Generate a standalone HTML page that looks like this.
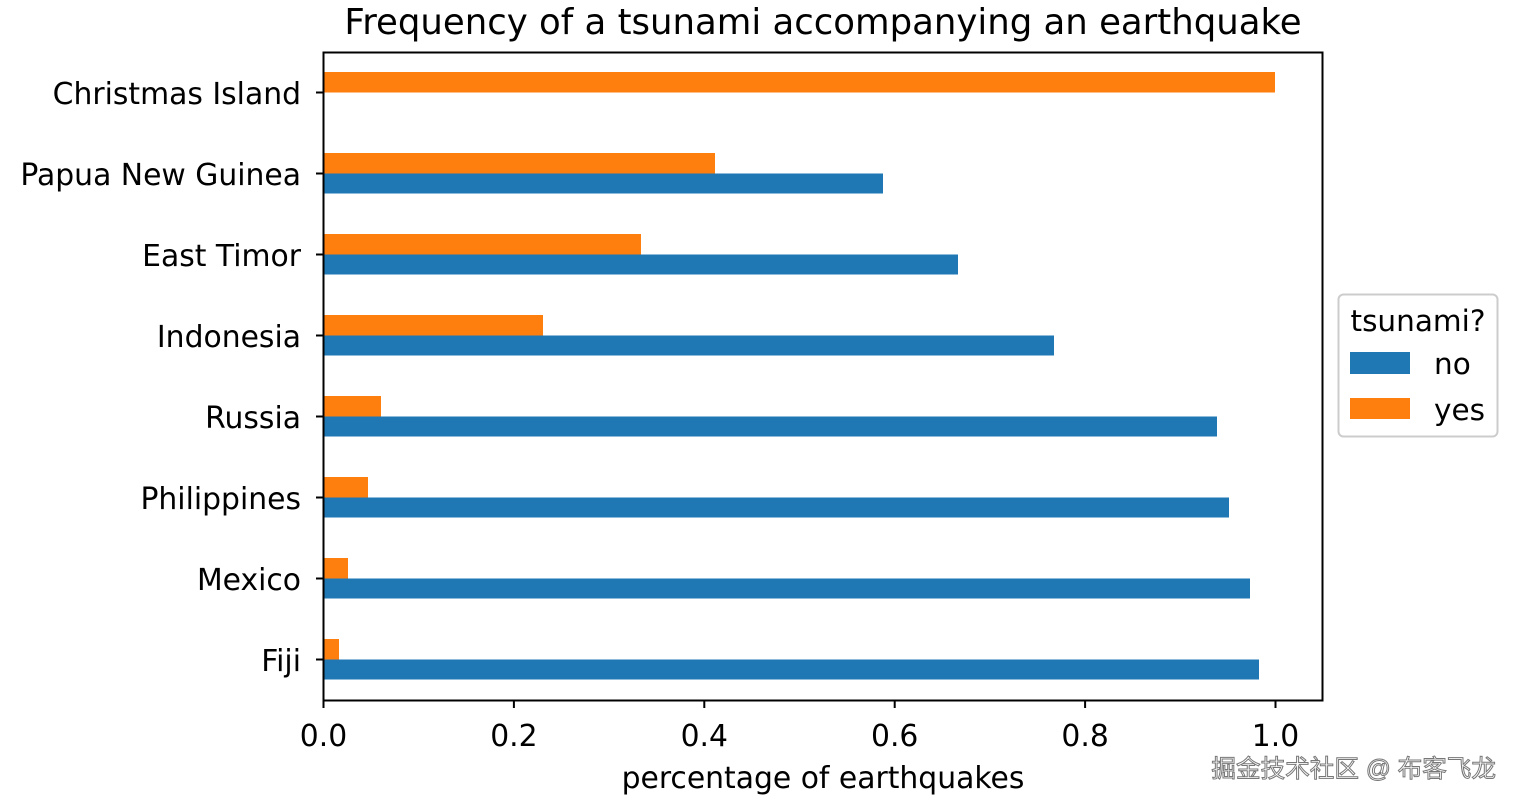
<!DOCTYPE html>
<html><head><meta charset="utf-8"><style>
html,body{margin:0;padding:0;background:#fff;}
svg{display:block;font-family:"DejaVu Sans","Liberation Sans",sans-serif;}
</style></head><body>
<svg width="1519" height="803" viewBox="0 0 1519 803" xmlns="http://www.w3.org/2000/svg">
<rect width="1519" height="803" fill="#fff"/>
<text x="823" y="34" font-size="35.5" text-anchor="middle" fill="#000">Frequency of a tsunami accompanying an earthquake</text>
<g fill="#ff7f0e">
<rect x="324" y="72" width="951" height="20.5"/>
<rect x="324" y="153" width="391" height="20.5"/>
<rect x="324" y="234" width="317" height="20.5"/>
<rect x="324" y="315" width="219" height="20.5"/>
<rect x="324" y="396" width="57" height="20.5"/>
<rect x="324" y="477" width="44" height="20.5"/>
<rect x="324" y="558" width="24" height="20.5"/>
<rect x="324" y="639" width="15" height="20.5"/>
</g>
<g fill="#1f77b4">
<rect x="324" y="173.5" width="559" height="20"/>
<rect x="324" y="254.5" width="634" height="20"/>
<rect x="324" y="335.5" width="730" height="20"/>
<rect x="324" y="416.5" width="893" height="20"/>
<rect x="324" y="497.5" width="905" height="20"/>
<rect x="324" y="578.5" width="926" height="20"/>
<rect x="324" y="659.5" width="935" height="20"/>
</g>
<rect x="323.5" y="52.5" width="999" height="648" fill="none" stroke="#000" stroke-width="2"/>
<g stroke="#000" stroke-width="2">
<line x1="316" x2="323" y1="92.5" y2="92.5"/>
<line x1="316" x2="323" y1="173.5" y2="173.5"/>
<line x1="316" x2="323" y1="254.5" y2="254.5"/>
<line x1="316" x2="323" y1="335.5" y2="335.5"/>
<line x1="316" x2="323" y1="416.5" y2="416.5"/>
<line x1="316" x2="323" y1="497.5" y2="497.5"/>
<line x1="316" x2="323" y1="578.5" y2="578.5"/>
<line x1="316" x2="323" y1="659.5" y2="659.5"/>
<line x1="323.5" x2="323.5" y1="701" y2="708"/>
<line x1="513.9" x2="513.9" y1="701" y2="708"/>
<line x1="704.3" x2="704.3" y1="701" y2="708"/>
<line x1="894.7" x2="894.7" y1="701" y2="708"/>
<line x1="1085.1" x2="1085.1" y1="701" y2="708"/>
<line x1="1275.5" x2="1275.5" y1="701" y2="708"/>
</g>
<g font-size="29.8" text-anchor="end" fill="#000">
<text x="301" y="104">Christmas Island</text>
<text x="301" y="185">Papua New Guinea</text>
<text x="301" y="266">East Timor</text>
<text x="301" y="347">Indonesia</text>
<text x="301" y="428">Russia</text>
<text x="301" y="509">Philippines</text>
<text x="301" y="590">Mexico</text>
<text x="301" y="671">Fiji</text>
</g>
<g font-size="29.8" text-anchor="middle" fill="#000">
<text x="323.5" y="746">0.0</text>
<text x="513.9" y="746">0.2</text>
<text x="704.3" y="746">0.4</text>
<text x="894.7" y="746">0.6</text>
<text x="1085.1" y="746">0.8</text>
<text x="1275.5" y="746">1.0</text>
<text x="823" y="788">percentage of earthquakes</text>
</g>
<rect x="1338.5" y="294.5" width="159" height="142" rx="5" fill="#fff" stroke="#ccc" stroke-width="2"/>
<text x="1418" y="331" font-size="29.5" text-anchor="middle" fill="#000">tsunami?</text>
<rect x="1350" y="352" width="60" height="22" fill="#1f77b4"/>
<rect x="1350" y="398" width="60" height="21" fill="#ff7f0e"/>
<text x="1434" y="374" font-size="29.5" fill="#000">no</text>
<text x="1434" y="420" font-size="29.5" fill="#000">yes</text>
<text x="1496" y="777" font-size="24.6" text-anchor="end" fill="#fff" stroke="#777" stroke-width="1" font-family="'Liberation Sans','Noto Sans CJK SC',sans-serif">掘金技术社区 @ 布客飞龙</text>
</svg>
</body></html>
